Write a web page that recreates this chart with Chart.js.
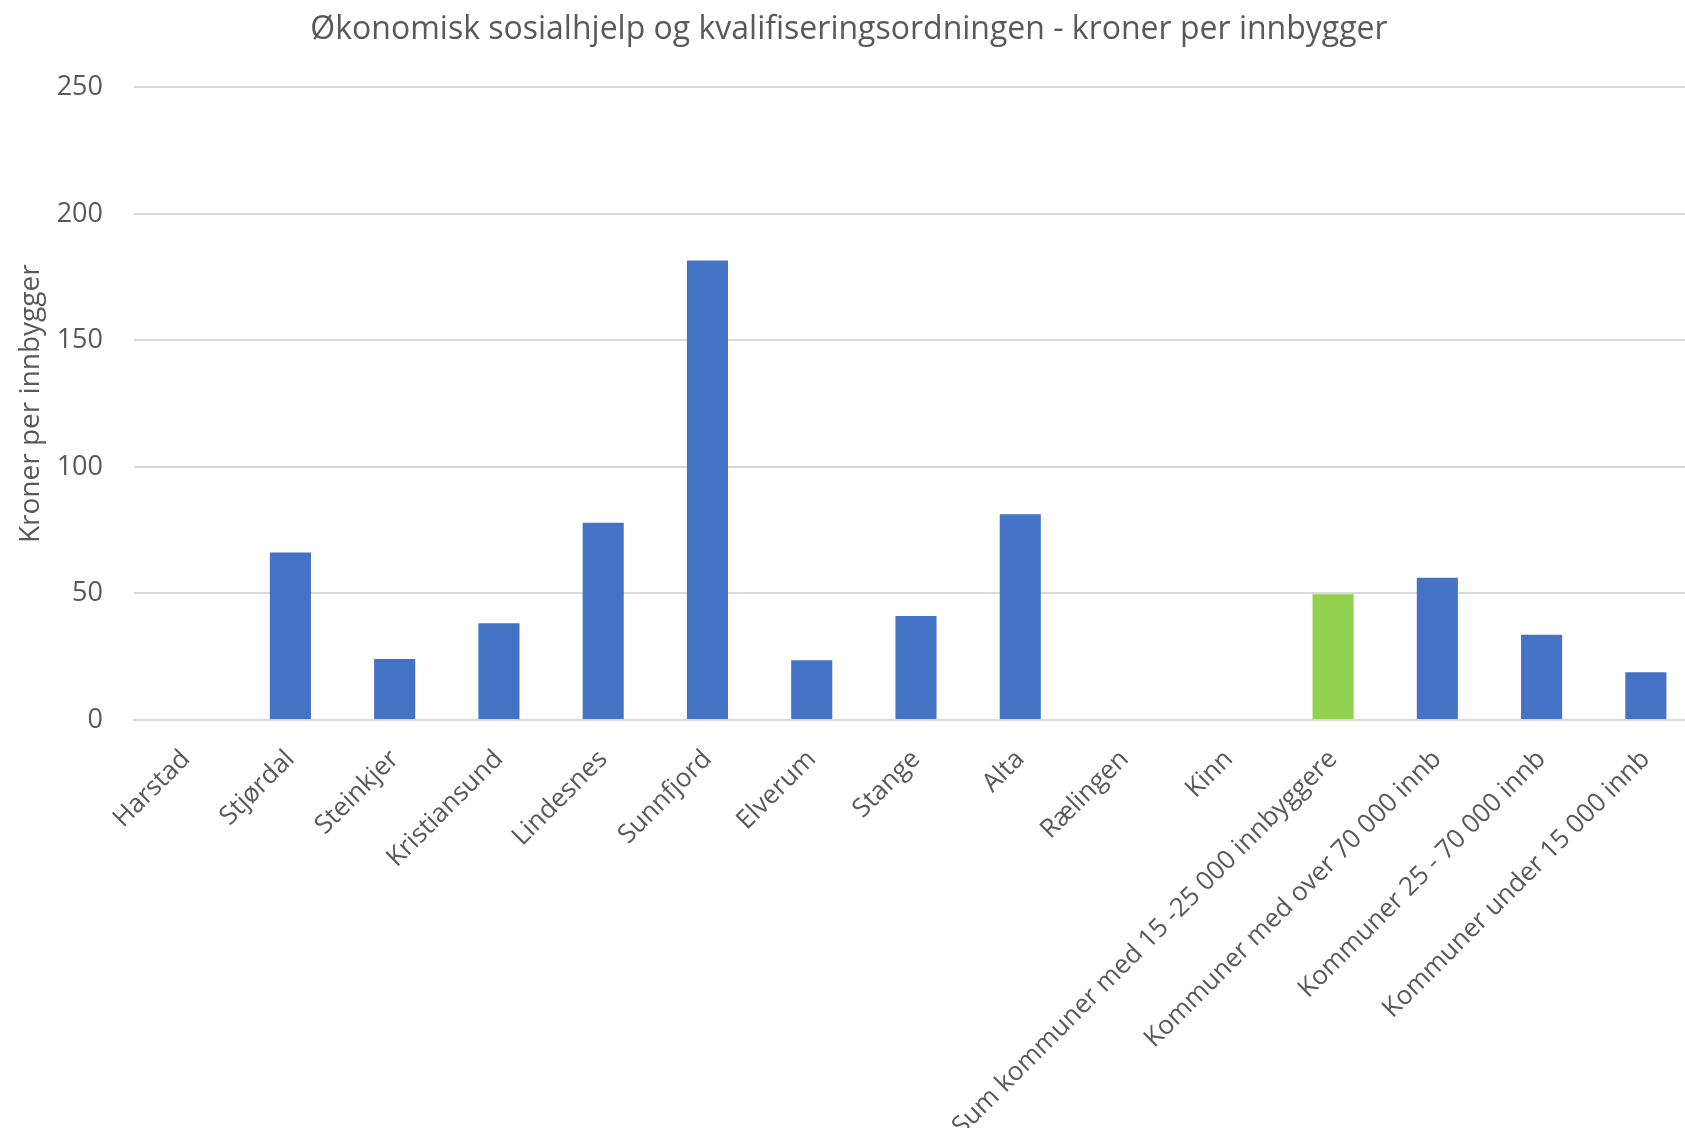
<!DOCTYPE html>
<html>
<head>
<meta charset="utf-8">
<title>Økonomisk sosialhjelp og kvalifiseringsordningen</title>
<script src="https://cdn.jsdelivr.net/npm/chart.js@4.4.0/dist/chart.umd.min.js"></script>
<style>
	html, body { margin: 0; padding: 0; background: #fff; overflow: hidden; }
	#wrap { position: relative; width: 1698px; height: 1128px; }
</style>
</head>
<body>
<div id="wrap"><canvas id="sosialhjelp"></canvas></div>
<script>
// data
var kommuner = [
	"Harstad", "Stjørdal", "Steinkjer", "Kristiansund", "Lindesnes", "Sunnfjord",
	"Elverum", "Stange", "Alta", "Rælingen", "Kinn",
	"Sum kommuner med 15 -25 000 innbyggere",
	"Kommuner med over 70 000 innb",
	"Kommuner 25 - 70 000 innb",
	"Kommuner under 15 000 innb"
];
var kronerPerInnbygger = [null, 66.2, 24.1, 38.2, 78.0, 181.6, 23.6, 41.1, 81.3, null, null, 49.7, 56.2, 33.7, 18.9];
var yTicks = [0, 50, 100, 150, 200, 250];
var sumLabel = "Sum kommuner med 15 -25 000 innbyggere";

var barColors = [];
for (var i = 0; i < kommuner.length; i++) {
	barColors.push(kommuner[i] === sumLabel ? "#92D050" : "#4472C4");
}

Chart.defaults.font.family = "'Open Sans', sans-serif";
Chart.defaults.color = "#595959";

new Chart("sosialhjelp", {
	type: "bar",
	data: {
		labels: kommuner,
		datasets: [{
			data: kronerPerInnbygger,
			backgroundColor: barColors,
			categoryPercentage: 1,
			barPercentage: 0.394
		}]
	},
	options: {
		responsive: true,
		maintainAspectRatio: false,
		animation: false,
		layout: { padding: 0 },
		plugins: {
			legend: { display: false },
			tooltip: { enabled: false },
			title: {
				display: true,
				text: "Økonomisk sosialhjelp og kvalifiseringsordningen - kroner per innbygger",
				color: "#595959",
				font: { size: 32, weight: "normal" },
				padding: { top: 11, bottom: 38 }
			}
		},
		scales: {
			x: {
				grid: { display: false, drawTicks: false },
				border: { display: true, color: "#d9d9d9", width: 2 },
				ticks: {
					color: "#595959",
					font: { size: 26 },
					maxRotation: 45,
					minRotation: 45,
					autoSkip: false,
					padding: 24
				},
				afterFit: function(scale) { scale.height = 408; }
			},
			y: {
				min: yTicks[0],
				max: yTicks[yTicks.length - 1],
				afterBuildTicks: function(scale) {
					scale.ticks = yTicks.map(function(v) { return { value: v }; });
				},
				grid: { color: "#d9d9d9", lineWidth: 2, drawTicks: false },
				border: { display: false },
				ticks: {
					color: "#595959",
					font: { size: 27 },
					padding: 31
				},
				title: {
					display: true,
					text: "Kroner per innbygger",
					color: "#595959",
					font: { size: 28, weight: "normal" },
					padding: { top: 14, bottom: 0 }
				},
				afterFit: function(scale) { scale.width = 134; }
			}
		}
	}
});
</script>
</body>
</html>
